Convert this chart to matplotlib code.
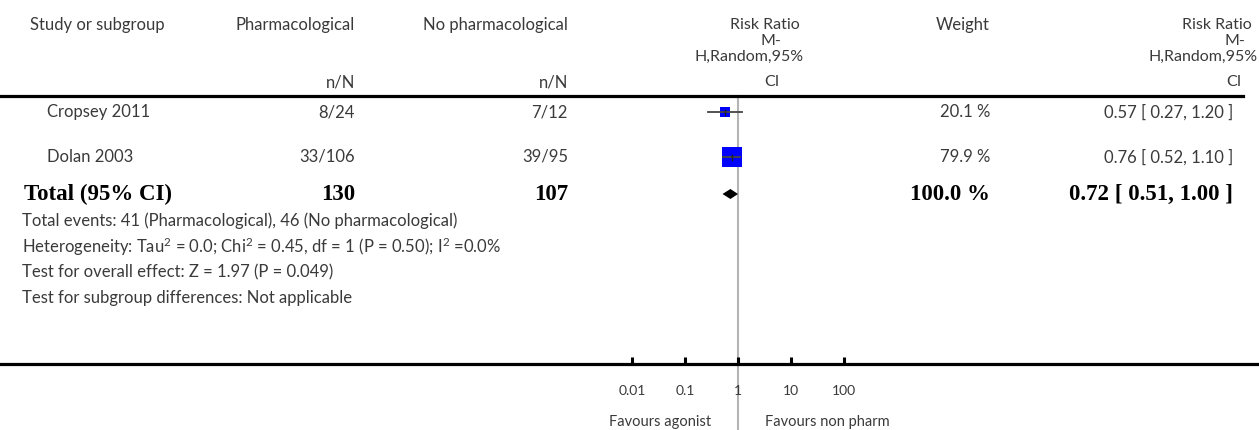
import numpy as np
import matplotlib.pyplot as plt
import matplotlib.transforms as mtransforms

plt.rcParams['mathtext.fontset'] = 'custom'
plt.rcParams['mathtext.rm'] = 'Lato'
plt.rcParams['mathtext.it'] = 'Lato:italic'
plt.rcParams['mathtext.bf'] = 'Lato:bold'

# study rows
studies = ['Cropsey 2011', 'Dolan 2003']
pharm_n = [8, 33]
pharm_N = [24, 106]
ctrl_n = [7, 39]
ctrl_N = [12, 95]
rr = [0.57, 0.76]
rr_lo = [0.27, 0.52]
rr_hi = [1.20, 1.10]
weight = [20.1, 79.9]

# pooled estimate
total_rr = 0.72
total_lo = 0.51
total_hi = 1.00
total_weight = 100.0

footnotes = [
    'Total events: {} (Pharmacological), {} (No pharmacological)'.format(sum(pharm_n), sum(ctrl_n)),
    'Heterogeneity: Tau$^{2}$ = 0.0; Chi$^{2}$ = 0.45, df = 1 (P = 0.50); I$^{2}$ =0.0%',
    'Test for overall effect: Z = 1.97 (P = 0.049)',
    'Test for subgroup differences: Not applicable',
]
tick_vals = [0.01, 0.1, 1, 10, 100]
tick_labels = ['0.01', '0.1', '1', '10', '100']

W, H = 1259, 430
fig = plt.figure(figsize=(W / 100, H / 100), dpi=100)
fig.patch.set_facecolor('white')

# pixel coordinates, origin top-left
px = mtransforms.Affine2D().scale(1 / W, -1 / H).translate(0, 1) + fig.transFigure

SANS = 'Lato'
SERIF = 'Liberation Serif'
GREY_TXT = '#3a3a3a'
fs = 12
fsb = 16.5

def txt(x, y, s, ha='left', bold=False, size=None):
    if bold:
        fig.text(x, y, s, transform=px, ha=ha, va='center', family=SERIF,
                 weight='bold', fontsize=size or fsb, color='black')
    else:
        fig.text(x, y, s, transform=px, ha=ha, va='center', family=SANS,
                 fontsize=size or fs, color=GREY_TXT)

# forest axis: log x, y in pixel rows
ax = fig.add_axes([0, 0, 1, 1])
ax.set_facecolor('none')
ax.set_xscale('log')
ax.set_xlim(10 ** (-738 / 53), 10 ** ((W - 738) / 53))
ax.set_ylim(H, 0)
for s in ['top', 'left', 'right']:
    ax.spines[s].set_visible(False)
ax.spines['bottom'].set_position(('data', 364))
ax.spines['bottom'].set_linewidth(2.3)
ax.set_yticks([])
ax.set_xticks(tick_vals)
ax.set_xticklabels(tick_labels, family=SANS, fontsize=10, color=GREY_TXT)
ax.xaxis.set_minor_locator(plt.NullLocator())
ax.tick_params(axis='x', direction='in', length=5, width=2.2, pad=15)

# header
txt(30, 25, 'Study or subgroup')
txt(355, 25, 'Pharmacological', ha='right')
txt(355, 82, 'n/N', ha='right')
txt(568, 25, 'No pharmacological', ha='right')
txt(568, 82, 'n/N', ha='right')
rr_head = ['Risk Ratio', 'M-', 'H,Random,95%', 'CI']
head_y = [25, 41, 57, 82]
for y, s, x in zip(head_y, rr_head, [765, 771, 749, 772]):
    txt(x, y, s, ha='center', size=11.5)
txt(990, 25, 'Weight', ha='right')
for y, s, x in zip(head_y, rr_head, [1252, 1245, 1258, 1242]):
    txt(x, y, s, ha='right', size=11.5)
fig.add_artist(plt.Line2D([0, 1243], [96, 96], transform=px, color='black', lw=2.3))

# reference line at RR = 1
ax.plot([1, 1], [96, H], color='#b4b4b4', lw=1.5, zorder=1)

# study rows
row_y = [112, 157]
for i, y in enumerate(row_y):
    txt(47, y, studies[i])
    txt(355, y, '{}/{}'.format(pharm_n[i], pharm_N[i]), ha='right')
    txt(568, y, '{}/{}'.format(ctrl_n[i], ctrl_N[i]), ha='right')
    txt(990, y, '{:.1f} %'.format(weight[i]), ha='right')
    txt(1233, y, '{:.2f} [ {:.2f}, {:.2f} ]'.format(rr[i], rr_lo[i], rr_hi[i]), ha='right')
    ax.scatter(rr[i], y, marker='s', s=2.35 * weight[i], color='#0000ff', lw=0, zorder=3)
    ax.plot([rr_lo[i], rr_hi[i]], [y, y], color='#444444', lw=1.3, zorder=4)
    ax.plot([rr[i], rr[i]], [y - 2.5, y + 2.5], color='#222222', lw=1.0, zorder=4)

# pooled row
ty = 194
txt(24, ty, 'Total (95% CI)', bold=True)
txt(355, ty, str(sum(pharm_N)), ha='right', bold=True)
txt(568, ty, str(sum(ctrl_N)), ha='right', bold=True)
txt(990, ty, '{:.1f} %'.format(total_weight), ha='right', bold=True)
txt(1233, ty, '{:.2f} [ {:.2f}, {:.2f} ]'.format(total_rr, total_lo, total_hi), ha='right', bold=True)
ax.fill([total_lo, total_rr, total_hi, total_rr], [ty, ty - 5, ty, ty + 5],
        color='black', lw=0, zorder=3)

for k, s in enumerate(footnotes):
    txt(22, 221 + 25.7 * k, s)

txt(711, 422, 'Favours agonist', ha='right', size=10.5)
txt(765, 422, 'Favours non pharm', size=10.5)

fig.savefig('out.png', dpi=100, facecolor='white')
